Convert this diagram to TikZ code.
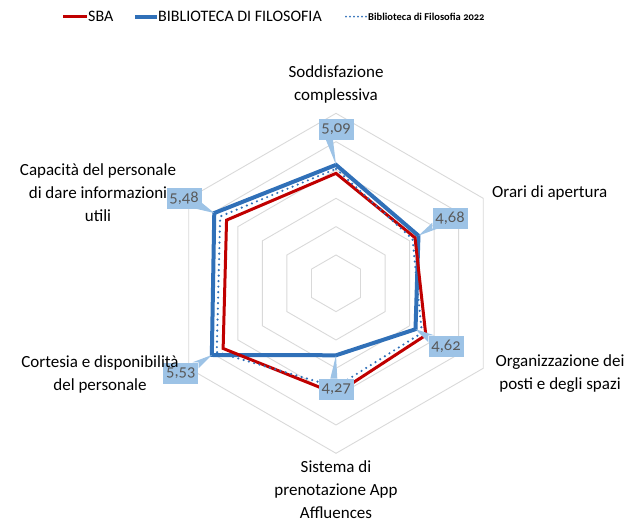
\documentclass[tikz,border=0pt]{standalone}
\usepackage{fontspec}
\setmainfont{Carlito}
\newfontfamily\numfont[Numbers=OldStyle]{Carlito}
\usetikzlibrary{calc}
\definecolor{sbared}{HTML}{C00000}
\definecolor{fblue}{HTML}{3070B8}
\definecolor{gridgray}{HTML}{D9D9D9}
\definecolor{lblfill}{HTML}{9DC3E6}
\definecolor{lbltext}{HTML}{595959}
\begin{document}
\begin{tikzpicture}[x=1pt,y=-1pt,
 grid/.style={draw=gridgray, line width=0.9pt},
 sbaline/.style={draw=sbared, line width=3pt, line join=miter},
 filoline/.style={draw=fblue, line width=4pt, line join=miter},
 oldline/.style={draw=fblue, line width=2.4pt, line cap=round, dash pattern=on 0pt off 5.5pt},
 lbl/.style={fill=lblfill, text=lbltext, inner sep=0pt, minimum width=35pt, minimum height=21pt, font=\numfont\fontsize{16.5}{16.5}\selectfont},
 wedge/.style={fill=lblfill},
 cat/.style={align=center, font=\fontsize{17}{23}\selectfont, text=black, inner sep=0pt},
 leg/.style={font=\fontsize{16}{16}\selectfont, anchor=west, inner sep=1pt},
]
\useasboundingbox (0,0) rectangle (631,523);
\coordinate (C) at (336,283.3);

% grid
\foreach \k in {1,...,6}{
 \draw[grid] ($(C)+(90:{\k*28.33pt})$) -- ($(C)+(30:{\k*28.33pt})$) -- ($(C)+(-30:{\k*28.33pt})$) -- ($(C)+(-90:{\k*28.33pt})$) -- ($(C)+(210:{\k*28.33pt})$) -- ($(C)+(150:{\k*28.33pt})$) -- cycle;
}

% data points
\foreach \v [count=\i] in {5.09,4.68,4.62,4.27,5.53,5.48}
 \coordinate (b\i) at ($(C)+({150-60*\i}:{(\v-3)*56.67pt})$);
\foreach \v [count=\i] in {4.94,4.61,4.83,4.95,5.30,5.23}
 \coordinate (s\i) at ($(C)+({150-60*\i}:{(\v-3)*56.67pt})$);
\foreach \v [count=\i] in {5.02,4.56,4.75,4.83,5.43,5.36}
 \coordinate (o\i) at ($(C)+({150-60*\i}:{(\v-3)*56.67pt})$);

\draw[filoline] (b1) -- (b2) -- (b3) -- (b4) -- (b5) -- (b6) -- cycle;
\draw[sbaline] (s1) -- (s2) -- (s3) -- (s4) -- (s5) -- (s6) -- cycle;
\draw[oldline] (o1) -- (o2) -- (o3) -- (o4) -- (o5) -- (o6) -- cycle;

% data labels
\node[lbl] (L1) at (336,129.5) {5,09};
\fill[wedge] ($(L1.south)+(-10,0)$) -- (b1) -- ($(L1.south)+(-3,0)$) -- cycle;
\node[lbl] (L2) at (450,218) {4,68};
\fill[wedge] ($(L2.south west)+(0,-6)$) -- (b2) -- ($(L2.south west)+(5,0)$) -- (L2.south west) -- cycle;
\node[lbl] (L3) at (446,346) {4,62};
\fill[wedge] ($(L3.north west)+(0,7)$) -- (b3) -- ($(L3.north west)+(6,0)$) -- (L3.north west) -- cycle;
\node[lbl] (L4) at (336.3,389.3) {4,27};
\fill[wedge] ($(L4.north)+(-6,0)$) -- (b4) -- ($(L4.north)+(1,0)$) -- cycle;
\node[lbl] (L5) at (180.8,373) {5,53};
\fill[wedge] ($(L5.north east)+(-6,0)$) -- (b5) -- ($(L5.north east)+(0,6)$) -- (L5.north east) -- cycle;
\node[lbl] (L6) at (184,198) {5,48};
\fill[wedge] ($(L6.south east)+(-6,0)$) -- (b6) -- ($(L6.south east)+(0,-6)$) -- (L6.south east) -- cycle;

% category labels
\node[cat] (c1) at (336,84) {Soddisfazione\\complessiva};
\node[cat, anchor=west] (c2) at (492,193) {Orari di apertura};
\node[cat] (c3) at (560,374) {Organizzazione dei\\posti e degli spazi};
\node[cat] (c4) at (336,490) {Sistema di\\prenotazione App\\Affluences};
\node[cat] (c5) at (100,374) {Cortesia e disponibilità\\del personale};
\node[cat] (c6) at (98,193) {Capacità del personale\\di dare informazioni\\utili};

% legend
\coordinate (lg1a) at (63,16.7); \coordinate (lg1b) at (87,16.7);
\draw[sbaline, line width=3.5pt] (lg1a) -- (lg1b);
\node[leg] (lg1) at (lg1b) {SBA};
\coordinate (lg2a) at (135,16.7); \coordinate (lg2b) at (157,16.7);
\draw[filoline] (lg2a) -- (lg2b);
\node[leg] (lg2) at (lg2b) {BIBLIOTECA DI FILOSOFIA};
\coordinate (lg3a) at (346,16.7); \coordinate (lg3b) at (366,16.7);
\draw[oldline, line width=2pt, dash pattern=on 0pt off 4pt] (lg3a) -- (lg3b);
\node[leg, font=\numfont\bfseries\fontsize{10.5}{10.5}\selectfont] (lg3) at (367,16.7) {Biblioteca di Filosofia 2022};
\end{tikzpicture}
\end{document}
